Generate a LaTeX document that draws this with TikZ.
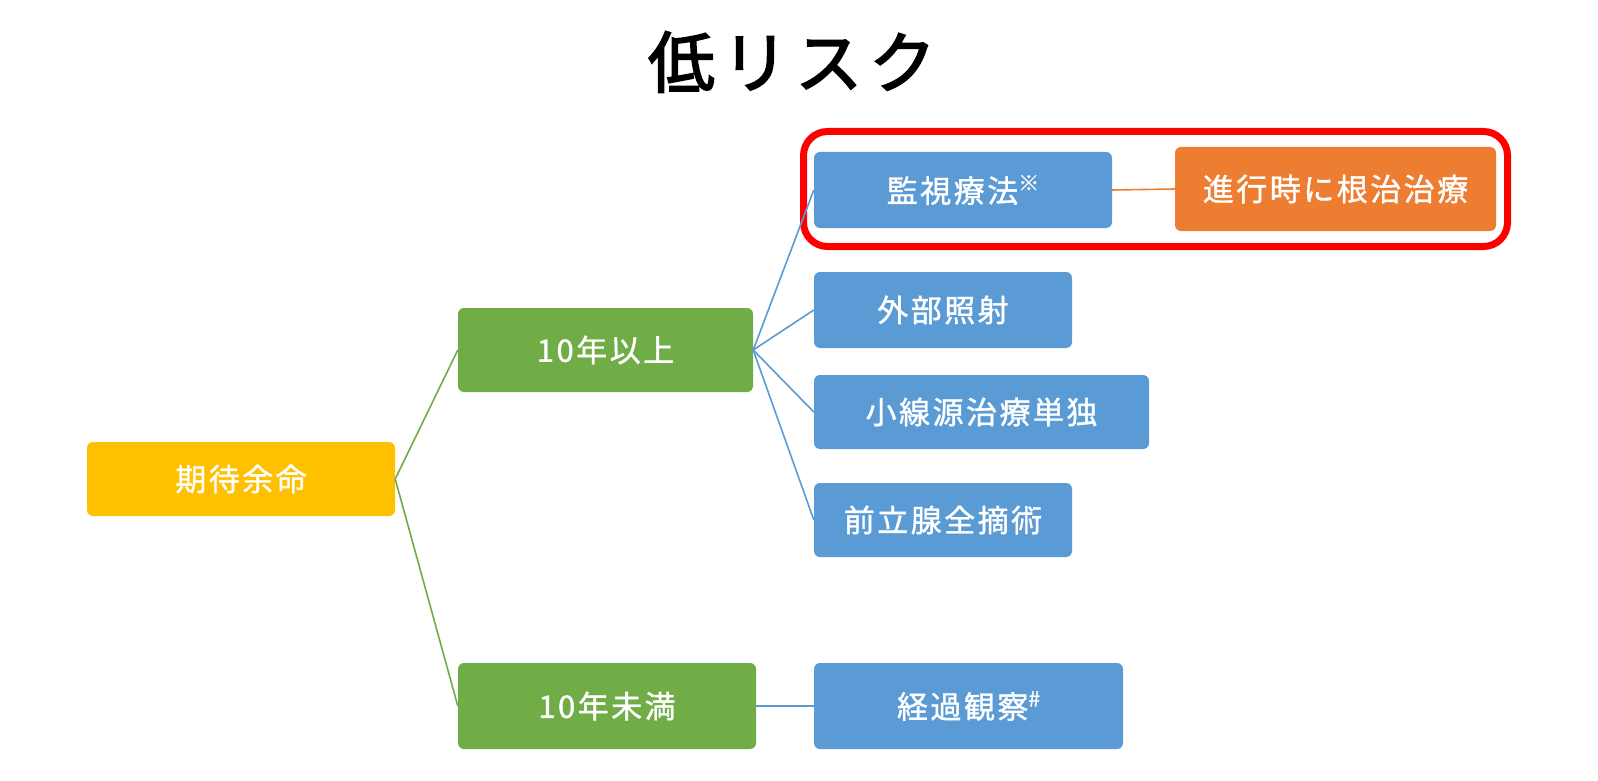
\documentclass[tikz,border=0pt]{standalone}
\usepackage{fontspec}
\newfontfamily\jpfont[LetterSpace=8,FakeBold=1.2]{Noto Sans CJK JP}
\newfontfamily\jptitle[LetterSpace=10,FakeBold=2.5]{Noto Sans CJK JP}
\definecolor{cblue}{HTML}{5B9BD5}
\definecolor{cgreen}{HTML}{70AD47}
\definecolor{cgold}{HTML}{FFC000}
\definecolor{corange}{HTML}{ED7D31}
\definecolor{cred}{HTML}{FF0000}
\tikzset{
  box/.style={rounded corners=6pt, inner sep=0pt, text=white, anchor=center,
    font=\jpfont\fontsize{31}{31}\selectfont},
  bluebox/.style={box, fill=cblue},
  greenbox/.style={box, fill=cgreen},
  goldbox/.style={box, fill=cgold},
  orangebox/.style={box, fill=corange},
  gline/.style={draw=cgreen, line width=1.6pt},
  bline/.style={draw=cblue, line width=1.6pt},
  oline/.style={draw=corange, line width=1.6pt},
  frame/.style={draw=cred, line width=7pt, rounded corners=24pt, inner sep=0pt},
}
\newcommand{\supmark}[1]{\raisebox{0.38em}{\fontsize{21}{21}\selectfont #1}}
\begin{document}
\begin{tikzpicture}[x=1pt,y=-1pt]
\useasboundingbox[fill=white] (0,0) rectangle (1598,781);
\node[font=\jptitle\fontsize{67}{67}\selectfont, text=black] (title) at (792,62) {低リスク};
\node[frame, minimum width=704pt, minimum height=115pt] (redframe) at (1155.5,189) {};
\node[goldbox, minimum width=308pt, minimum height=74pt] (life) at (241,479) {期待余命};
\node[greenbox, minimum width=295pt, minimum height=84pt] (ge10) at (605.5,350) {10年以上};
\node[greenbox, minimum width=298pt, minimum height=86pt] (lt10) at (607,706) {10年未満};
\node[bluebox, minimum width=298pt, minimum height=76pt] (kanshi) at (963,190) {監視療法\supmark{※}};
\node[orangebox, minimum width=321pt, minimum height=84pt] (shinko) at (1335.5,189) {進行時に根治治療};
\node[bluebox, minimum width=258pt, minimum height=76pt] (gaibu) at (943,310) {外部照射};
\node[bluebox, minimum width=335pt, minimum height=74pt] (shosen) at (981.5,412) {小線源治療単独};
\node[bluebox, minimum width=258pt, minimum height=74pt] (zenritsu) at (943,520) {前立腺全摘術};
\node[bluebox, minimum width=309pt, minimum height=86pt] (keika) at (968.5,706) {経過観察\supmark{\#}};
\draw[gline] (life.east) -- (ge10.west);
\draw[gline] (life.east) -- (lt10.west);
\draw[bline] (ge10.east) -- (kanshi.west);
\draw[bline] (ge10.east) -- (gaibu.west);
\draw[bline] (ge10.east) -- (shosen.west);
\draw[bline] (ge10.east) -- (zenritsu.west);
\draw[bline] (lt10.east) -- (keika.west);
\draw[oline] (kanshi.east) -- (shinko.west);
\end{tikzpicture}
\end{document}
